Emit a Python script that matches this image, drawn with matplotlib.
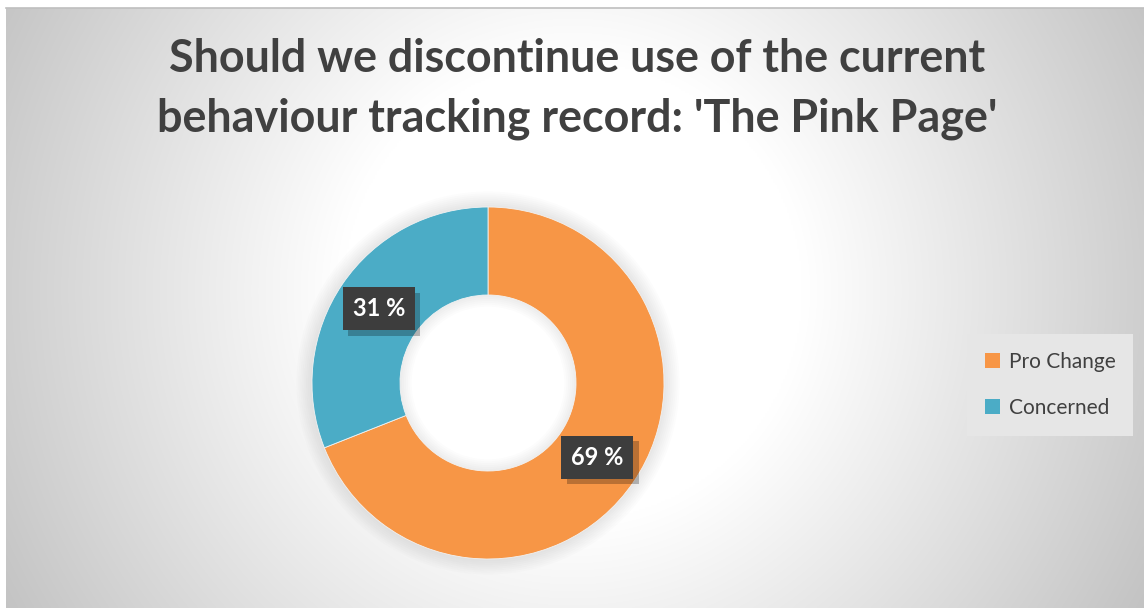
import numpy as np
import matplotlib
matplotlib.use("Agg")
import matplotlib.pyplot as plt
from matplotlib import patheffects
from matplotlib.patches import Circle, Wedge

# ---- data ----
title = "Should we discontinue use of the current\nbehaviour tracking record: 'The Pink Page'"
categories = ["Pro Change", "Concerned"]
values = [69, 31]
colors = ["#F79646", "#4BACC6"]

W, H = 1144, 611
fig = plt.figure(figsize=(W / 100, H / 100), dpi=100)
fig.patch.set_facecolor("white")

# ---- background (radial gradient, pixel based) ----
x0, y0, x1, y1 = 6, 8, 1144, 608
bg = fig.add_axes([x0 / W, 1 - y1 / H, (x1 - x0) / W, (y1 - y0) / H])
bg.set_axis_off()
px = np.arange(x0, x1, 2.0)
py = np.arange(y0, y1, 2.0)
PX, PY = np.meshgrid(px, py)
r = np.hypot(PX - 572, PY - 290)
v = 255 - 0.142 * np.clip(r - 230, 0, None)
img = np.dstack([v, v, v]) / 255.0
bg.imshow(img, aspect="auto", extent=[0, 1, 0, 1], origin="upper", interpolation="bilinear")
bg.set_xlim(0, 1)
bg.set_ylim(0, 1)
bg.plot([0, 1], [1, 1], color="#bfbfbf", lw=1.2, clip_on=False)

# ---- donut ----
ccx, ccy, R = 488, 383, 176
ax = fig.add_axes([(ccx - R) / W, 1 - (ccy + R) / H, 2 * R / W, 2 * R / H])
ax.set_axis_off()

wedges, _ = ax.pie(values, colors=colors, startangle=90, counterclock=False, radius=1.0,
                   wedgeprops=dict(width=0.5, edgecolor="#f2f2f2", linewidth=0.6, zorder=2))
ax.set_xlim(-1, 1)
ax.set_ylim(-1, 1)

# soft glow / shadow around ring (annuli only, hole stays clear)
for i in range(8):
    ax.add_patch(Wedge((0, 0), 1.0 + 0.011 * (i + 1), 0, 360, width=0.011 * (i + 1) + 0.01,
                       color="#909090", alpha=0.025, lw=0, zorder=0, clip_on=False))
# inner hole halo
for i in range(6):
    ax.add_patch(Wedge((0, 0), 0.5, 0, 360, width=0.011 * (i + 1),
                       color="#909090", alpha=0.025, lw=0, zorder=1))

for w, val in zip(wedges, values):
    ang = np.deg2rad((w.theta1 + w.theta2) / 2)
    rr = 0.75
    t = ax.text(rr * np.cos(ang), rr * np.sin(ang), f"{val} %", ha="center", va="center",
                color="white", fontsize=17, fontweight="bold", family=["Lato", "DejaVu Sans"],
                zorder=5,
                bbox=dict(boxstyle="square,pad=0.42", fc="#3d3d3d", ec="none"))
    t.get_bbox_patch().set_path_effects([
        patheffects.SimplePatchShadow(offset=(4, -4), shadow_rgbFace="#000000", alpha=0.25),
        patheffects.Normal()])

# ---- title ----
fig.text(577 / W, 1 - 89 / H, title, ha="center", va="center", fontsize=32.3,
         fontweight="bold", color="#404040", family=["Lato", "DejaVu Sans"], linespacing=1.5)

# ---- legend ----
leg = fig.legend(wedges, categories, loc="center", bbox_to_anchor=(1050 / W, 1 - 385 / H),
                 frameon=True, fancybox=False, prop=dict(family="Lato", size=15),
                 handlelength=0.75, handleheight=0.75, handletextpad=0.4,
                 labelspacing=1.25, borderpad=0.85, labelcolor="#404040")
leg.get_frame().set_facecolor("#e6e6e6")
leg.get_frame().set_edgecolor("none")
leg.get_frame().set_alpha(1)
for h in leg.legend_handles:
    h.set_edgecolor("none")

fig.savefig("out.png", dpi=100)
